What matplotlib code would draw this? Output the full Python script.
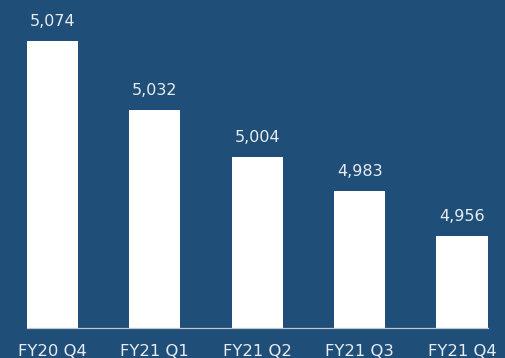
import matplotlib
matplotlib.use("Agg")
import matplotlib.pyplot as plt

categories = ["FY20 Q4", "FY21 Q1", "FY21 Q2", "FY21 Q3", "FY21 Q4"]
values = [5074, 5032, 5004, 4983, 4956]

BG = "#1F4E79"
TXT = "#E8ECF0"

plt.rcParams['font.family'] = ['DejaVu Sans']
fig = plt.figure(figsize=(5.05, 3.58), dpi=100, facecolor=BG)
ax = fig.add_axes([26.7 / 505, 30 / 358, 461 / 505, 328 / 358])
ax.set_facecolor(BG)

x = list(range(len(categories)))
ax.bar(x, values, width=0.5, color="white", zorder=2)
ax.set_xlim(-0.25, len(categories) - 0.75)
ax.set_ylim(4900, 5099)

for xi, v in zip(x, values):
    ax.annotate(f"{v:,}", (xi, v), xytext=(0, 10.8), textcoords="offset points",
                ha="center", va="baseline", color=TXT, fontsize=11.5)

ax.set_xticks(x)
ax.set_xticklabels(categories, color=TXT, fontsize=11.8)
ax.tick_params(axis="x", length=0, pad=11.5)
ax.set_yticks([])
for s in ["top", "left", "right"]:
    ax.spines[s].set_visible(False)
ax.spines["bottom"].set_color("#BFC5CC")
ax.spines["bottom"].set_linewidth(0.9)
ax.spines["bottom"].set_zorder(3)

fig.savefig("out.png", dpi=100, facecolor=BG)
